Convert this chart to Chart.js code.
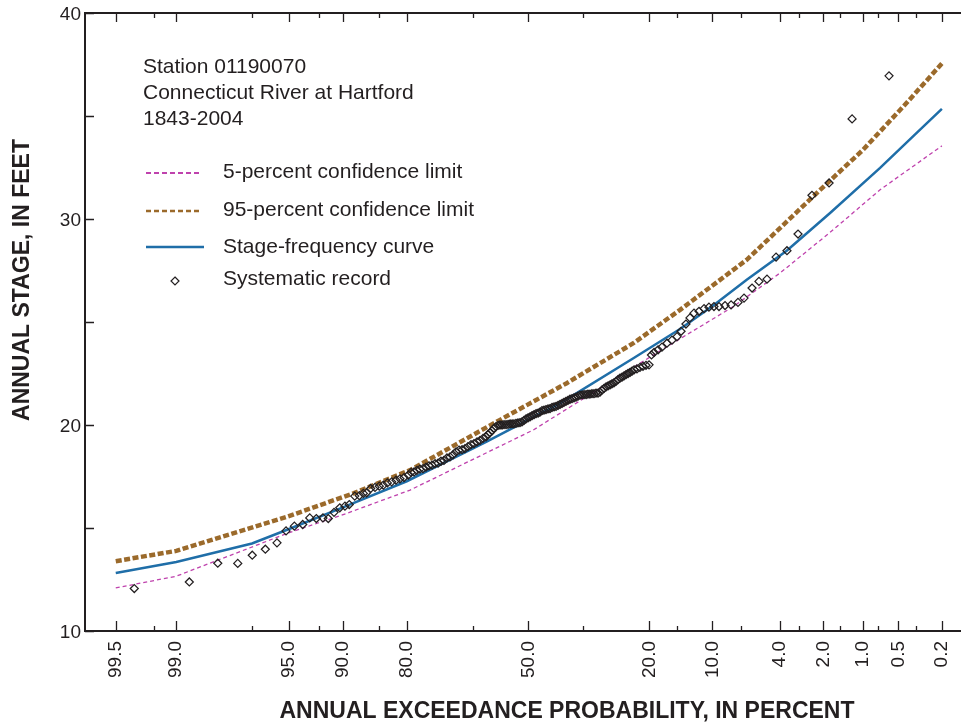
<!DOCTYPE html>
<html>
<head>
<meta charset="utf-8">
<script src="https://cdn.jsdelivr.net/npm/chart.js@4.4.1/dist/chart.umd.min.js"></script>
<style>
  html, body { margin: 0; padding: 0; background: #fff; }
  canvas { display: block; }
</style>
</head>
<body>
<canvas id="chart" width="961" height="725"></canvas>
<script>
// x axis is in standard normal deviates (probability scale), y in feet
const xTickLabels = ['99.5', '99.0', '95.0', '90.0', '80.0', '50.0', '20.0', '10.0', '4.0', '2.0', '1.0', '0.5', '0.2'];
const xTickZ = [-2.871, -2.450, -1.665, -1.290, -0.846, 0, 0.842, 1.281, 1.751, 2.054, 2.326, 2.576, 2.878];
const xMinorZ = [-2.605, -1.921, -1.457, -1.039, -0.385, 0.383, 1.033, 1.478, 1.884, 2.169, 2.434, 2.698];

const stageZ = [-2.871, -2.450, -1.923, -1.665, -1.290, -0.846, -0.290, 0, 0.221, 0.731, 1.056, 1.287, 1.520, 1.798, 2.100, 2.448, 2.679, 2.878];
const stageFt = [12.82, 13.35, 14.25, 14.95, 16.00, 17.27, 19.19, 20.25, 21.05, 23.24, 24.66, 25.80, 27.05, 28.46, 30.29, 32.48, 34.02, 35.35];

const upperZ = [-2.871, -2.450, -1.681, -1.218, -0.823, -0.197, 0.267, 0.731, 1.056, 1.520, 1.983, 2.331, 2.633, 2.878];
const upperFt = [13.39, 13.89, 15.54, 16.68, 17.81, 20.25, 22.03, 23.97, 25.59, 28.02, 31.10, 33.37, 35.64, 37.55];

const lowerZ = [-2.871, -2.450, -1.681, -1.264, -0.823, 0.035, 0.870, 1.427, 1.752, 2.100, 2.448, 2.878];
const lowerFt = [12.09, 12.66, 14.73, 15.71, 16.84, 19.76, 23.40, 25.75, 27.38, 29.35, 31.42, 33.55];

const recordZ = [
  -2.742, -2.359, -2.161, -2.022, -1.921, -1.830, -1.749, -1.686, -1.628, -1.570,
  -1.521, -1.475, -1.429, -1.392, -1.352, -1.312, -1.276, -1.246, -1.208, -1.176,
  -1.148, -1.125, -1.097, -1.067, -1.037, -1.009, -0.981, -0.951, -0.921, -0.893,
  -0.865, -0.835,
  -0.816, -0.795, -0.775, -0.754, -0.733, -0.712, -0.691, -0.670, -0.649, -0.628,
  -0.608, -0.587, -0.566, -0.545, -0.524, -0.503, -0.482, -0.461, -0.441, -0.420,
  -0.399, -0.378, -0.357, -0.336, -0.315, -0.294, -0.280, -0.267, -0.253, -0.239,
  -0.225, -0.211, -0.197, -0.183, -0.169, -0.155, -0.141, -0.127, -0.113, -0.100,
  -0.086, -0.072, -0.058, -0.044, -0.030, -0.016, -0.002, 0.012, 0.026, 0.040,
  0.054, 0.068, 0.081, 0.095, 0.109, 0.123, 0.137, 0.151, 0.165, 0.179,
  0.193, 0.207, 0.221, 0.235, 0.248, 0.262, 0.276, 0.290, 0.304, 0.318,
  0.332, 0.346, 0.360, 0.374, 0.388, 0.402, 0.415, 0.429, 0.443, 0.457,
  0.471, 0.485, 0.499, 0.513, 0.527, 0.541, 0.555, 0.569, 0.582, 0.596,
  0.610, 0.624, 0.638, 0.652, 0.666, 0.680, 0.694, 0.708, 0.722, 0.736,
  0.756, 0.777, 0.798, 0.819, 0.840,
  0.857, 0.875, 0.903, 0.930, 0.965, 1.000, 1.035, 1.063, 1.097, 1.125,
  1.153, 1.188, 1.223, 1.257, 1.292, 1.327, 1.369, 1.411, 1.459, 1.501,
  1.557, 1.605, 1.661, 1.724, 1.800, 1.877, 1.974, 2.093, 2.253, 2.510
];
const recordFt = [
  12.06, 12.38, 13.29, 13.28, 13.68, 13.97, 14.28, 14.86, 15.09, 15.17,
  15.49, 15.46, 15.49, 15.46, 15.76, 15.98, 16.06, 16.14, 16.55, 16.57,
  16.68, 16.71, 16.92, 16.97, 17.03, 17.08, 17.19, 17.24, 17.32, 17.39,
  17.45, 17.57,
  17.70, 17.72, 17.80, 17.86, 17.88, 17.95, 18.02, 18.05, 18.12, 18.15,
  18.24, 18.28, 18.40, 18.45, 18.55, 18.70, 18.78, 18.80, 18.85, 18.95,
  19.05, 19.10, 19.18, 19.25, 19.35, 19.43, 19.55, 19.62, 19.72, 19.85,
  19.92, 19.98, 20.00, 20.00, 20.02, 20.02, 20.03, 20.05, 20.05, 20.06,
  20.08, 20.10, 20.12, 20.15, 20.22, 20.30, 20.35, 20.40, 20.45, 20.50,
  20.55, 20.58, 20.62, 20.70, 20.72, 20.75, 20.78, 20.80, 20.85, 20.88,
  20.90, 20.95, 21.00, 21.05, 21.10, 21.15, 21.20, 21.25, 21.28, 21.32,
  21.35, 21.40, 21.45, 21.46, 21.48, 21.48, 21.50, 21.50, 21.52, 21.52,
  21.55, 21.55, 21.60, 21.70, 21.78, 21.85, 21.90, 21.95, 22.00, 22.05,
  22.12, 22.20, 22.28, 22.32, 22.38, 22.45, 22.50, 22.55, 22.62, 22.68,
  22.72, 22.80, 22.85, 22.90, 22.92,
  23.40, 23.52, 23.65, 23.78, 23.97, 24.12, 24.29, 24.55, 24.90, 25.20,
  25.43, 25.52, 25.65, 25.72, 25.75, 25.75, 25.80, 25.83, 25.95, 26.16,
  26.65, 26.97, 27.08, 28.15, 28.46, 29.27, 31.15, 31.75, 34.86, 36.95
];

const stationLines = ['Station 01190070', 'Connecticut River at Hartford', '1843-2004'];
const seriesNames = ['5-percent confidence limit', '95-percent confidence limit', 'Stage-frequency curve', 'Systematic record'];

const ink = '#231f20';
const blue = '#1f6ea8';
const brown = '#9b6a2b';
const magenta = '#bf42ad';
const family = '"Liberation Sans", Arial, Helvetica, sans-serif';

function pts(xs, ys) {
  return xs.map((x, i) => ({ x: x, y: ys[i] }));
}

// inward tick marks, top frame line, titles and the key
const decor = {
  id: 'decor',
  afterDraw(chart) {
    const ctx = chart.ctx;
    const a = chart.chartArea;
    const x = chart.scales.x;
    const y = chart.scales.y;
    ctx.save();
    ctx.strokeStyle = ink;

    ctx.lineWidth = 2;
    ctx.beginPath();
    ctx.moveTo(a.left - 1, a.top);
    ctx.lineTo(chart.width, a.top);
    ctx.stroke();

    ctx.lineWidth = 1.3;
    ctx.beginPath();
    xTickZ.forEach(v => {
      const px = Math.round(x.getPixelForValue(v)) + 0.5;
      ctx.moveTo(px, a.bottom); ctx.lineTo(px, a.bottom - 10);
      ctx.moveTo(px, a.top); ctx.lineTo(px, a.top + 9);
    });
    xMinorZ.forEach(v => {
      const px = Math.round(x.getPixelForValue(v)) + 0.5;
      ctx.moveTo(px, a.bottom); ctx.lineTo(px, a.bottom - 5);
      ctx.moveTo(px, a.top); ctx.lineTo(px, a.top + 5);
    });
    y.ticks.forEach(t => {
      const py = Math.round(y.getPixelForValue(t.value)) + 0.5;
      ctx.moveTo(a.left, py); ctx.lineTo(a.left + 9, py);
    });
    ctx.stroke();

    ctx.fillStyle = ink;
    ctx.font = 'bold 23px ' + family;
    ctx.textAlign = 'center';
    ctx.textBaseline = 'middle';
    ctx.fillText('ANNUAL EXCEEDANCE PROBABILITY, IN PERCENT', 567, 712);
    ctx.save();
    ctx.translate(23, 280);
    ctx.rotate(-Math.PI / 2);
    ctx.fillText('ANNUAL STAGE, IN FEET', 0, 0);
    ctx.restore();

    ctx.font = '21px ' + family;
    ctx.textAlign = 'left';
    ctx.textBaseline = 'alphabetic';
    stationLines.forEach((s, i) => ctx.fillText(s, 143, 73 + i * 26));

    const rows = [178, 216, 253, 285];
    seriesNames.forEach((s, i) => ctx.fillText(s, 223, rows[i]));

    ctx.lineWidth = 2;
    ctx.setLineDash([5, 3]);
    ctx.strokeStyle = magenta;
    ctx.beginPath(); ctx.moveTo(146, 173); ctx.lineTo(202, 173); ctx.stroke();
    ctx.strokeStyle = brown;
    ctx.lineWidth = 2.6;
    ctx.beginPath(); ctx.moveTo(146, 211); ctx.lineTo(202, 211); ctx.stroke();
    ctx.setLineDash([]);
    ctx.strokeStyle = blue;
    ctx.lineWidth = 2.5;
    ctx.beginPath(); ctx.moveTo(146, 247); ctx.lineTo(204, 247); ctx.stroke();
    ctx.strokeStyle = ink;
    ctx.lineWidth = 1.2;
    ctx.beginPath();
    ctx.moveTo(175, 277); ctx.lineTo(179, 281); ctx.lineTo(175, 285); ctx.lineTo(171, 281); ctx.closePath();
    ctx.stroke();
    ctx.restore();
  }
};

const ctx = document.getElementById('chart').getContext('2d');
const chart = new Chart(ctx, {
  type: 'scatter',
  data: {
    datasets: [
      {
        label: seriesNames[3],
        data: pts(recordZ, recordFt),
        pointStyle: 'rectRot',
        pointRadius: 4,
        pointBorderWidth: 1.25,
        borderColor: ink,
        backgroundColor: 'rgba(0,0,0,0)',
        showLine: false
      },
      {
        label: seriesNames[2],
        data: pts(stageZ, stageFt),
        showLine: true,
        borderColor: blue,
        borderWidth: 2.5,
        pointRadius: 0,
        tension: 0
      },
      {
        label: seriesNames[1],
        data: pts(upperZ, upperFt),
        showLine: true,
        borderColor: brown,
        borderWidth: 4.5,
        borderDash: [6, 2.5],
        pointRadius: 0,
        tension: 0
      },
      {
        label: seriesNames[0],
        data: pts(lowerZ, lowerFt),
        showLine: true,
        borderColor: magenta,
        borderWidth: 1.3,
        borderDash: [4, 3],
        pointRadius: 0,
        tension: 0
      }
    ]
  },
  options: {
    responsive: false,
    animation: false,
    devicePixelRatio: 1,
    layout: { autoPadding: false, padding: { top: 13, right: 0, left: 0, bottom: 0 } },
    plugins: {
      legend: { display: false },
      tooltip: { enabled: false },
      title: { display: false }
    },
    scales: {
      x: {
        type: 'linear',
        min: -3.085,
        max: 3.011,
        afterBuildTicks: s => {
          s.ticks = xTickZ.concat(xMinorZ).sort((p, q) => p - q).map(v => ({ value: v }));
        },
        afterFit: s => {
          s.height = 94;
          s.paddingLeft = 0;
          s.paddingRight = 0;
        },
        grid: { display: false, drawTicks: false },
        border: { display: true, color: ink, width: 2 },
        ticks: {
          autoSkip: false,
          minRotation: 90,
          maxRotation: 90,
          padding: 10,
          color: ink,
          font: { size: 19, family: family },
          callback: v => {
            const i = xTickZ.indexOf(v);
            return i >= 0 ? xTickLabels[i] : '';
          }
        }
      },
      y: {
        type: 'linear',
        min: 10,
        max: 40,
        afterFit: s => {
          s.width = 85;
          s.paddingTop = 0;
          s.paddingBottom = 0;
        },
        grid: { display: false, drawTicks: false },
        border: { display: true, color: ink, width: 2 },
        ticks: {
          stepSize: 5,
          padding: 4,
          labelOffset: 2,
          color: ink,
          font: { size: 19, family: family },
          callback: v => (v % 10 === 0 ? String(v) : '')
        }
      }
    }
  },
  plugins: [decor]
});
</script>
</body>
</html>
